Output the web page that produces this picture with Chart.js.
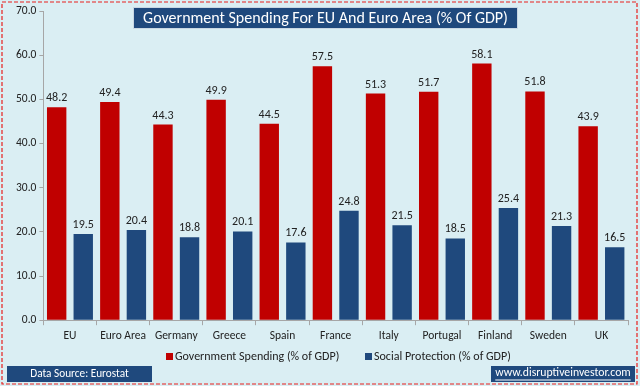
<!DOCTYPE html>
<html><head><meta charset="utf-8">
<script src="https://cdn.jsdelivr.net/npm/chart.js@4"></script>
<style>html,body{margin:0;padding:0;background:#DAEEF3;}</style>
</head><body><canvas id="c" width="640" height="386"></canvas>
<script>
const categories = ["EU","Euro Area","Germany","Greece","Spain","France","Italy","Portugal","Finland","Sweden","UK"];
const govSpending = [48.2,49.4,44.3,49.9,44.5,57.5,51.3,51.7,58.1,51.8,43.9];
const socialProtection = [19.5,20.4,18.8,20.1,17.6,24.8,21.5,18.5,25.4,21.3,16.5];
const seriesNames = ["Government Spending (% of GDP)","Social Protection (% of GDP)"];
const seriesColors = ["#C00000","#1F497D"];
const titleText = "Government Spending For EU And Euro Area (% Of GDP)";
const sourceText = "Data Source: Eurostat";
const siteText = "www.disruptiveinvestor.com";
const FONT = "Carlito, Lato, 'Open Sans', sans-serif";

function fitText(ctx, text, cx, cy, width, maxSize){
  let s = maxSize;
  ctx.font = s+'px '+FONT;
  while (ctx.measureText(text).width > width && s > 6){ s -= 0.25; ctx.font = s+'px '+FONT; }
  ctx.fillText(text, cx, cy);
  return ctx.measureText(text).width;
}

const decor = {
  id:'decor',
  beforeDraw(chart){
    const ctx=chart.ctx;
    ctx.save();
    ctx.fillStyle='#DAEEF3';
    ctx.fillRect(0,0,chart.width,chart.height);
    ctx.restore();
  },
  afterDraw(chart){
    const ctx=chart.ctx;
    ctx.save();
    ctx.textAlign='center';ctx.textBaseline='middle';
    // title box
    ctx.fillStyle='#1F497D';
    ctx.fillRect(133,7,385,22);
    ctx.strokeStyle='#C9D7E3';ctx.lineWidth=1;
    ctx.strokeRect(133.5,7.5,384,21);
    ctx.fillStyle='#fff';
    fitText(ctx,titleText,325.5,18.5,365,16);
    // source boxes
    ctx.fillStyle='#1F497D';
    ctx.fillRect(7,366,145,16);
    ctx.fillRect(491,366,144,16);
    ctx.fillStyle='#fff';
    fitText(ctx,sourceText,79.5,374,100,13);
    const w = fitText(ctx,siteText,563,373.5,138,13);
    ctx.fillRect(563-w/2,379.5,w,1);
    // legend
    const lx=[166,365];
    ctx.textAlign='left';
    seriesNames.forEach((n,i)=>{
      ctx.fillStyle=seriesColors[i];
      ctx.fillRect(lx[i],353,7,7);
      ctx.fillStyle='#222';
      const tw = i===0?166:138;
      let s=12; ctx.font=s+'px '+FONT;
      while(ctx.measureText(n).width>tw && s>6){s-=0.25;ctx.font=s+'px '+FONT;}
      ctx.fillText(n,lx[i]+9,356.5);
    });
    // data labels
    ctx.textAlign='center';
    ctx.fillStyle='#222';ctx.font='12px '+FONT;ctx.textBaseline='bottom';
    chart.data.datasets.forEach((ds,i)=>{
      const meta=chart.getDatasetMeta(i);
      meta.data.forEach((bar,j)=>{
        ctx.fillText(ds.data[j].toFixed(1),bar.x,bar.y-3);
      });
    });
    // border
    ctx.strokeStyle='#E8201F';ctx.lineWidth=1.2;ctx.setLineDash([4,2]);
    ctx.strokeRect(2,2,635,382);
    ctx.restore();
  }
};

new Chart(document.getElementById('c'),{
  type:'bar',
  data:{labels:categories,datasets:[
    {label:seriesNames[0],data:govSpending,backgroundColor:seriesColors[0],barPercentage:0.73,categoryPercentage:1},
    {label:seriesNames[1],data:socialProtection,backgroundColor:seriesColors[1],barPercentage:0.73,categoryPercentage:1}
  ]},
  options:{
    responsive:false,animation:false,
    layout:{padding:{left:13,right:12,top:11,bottom:39}},
    plugins:{legend:{display:false},tooltip:{enabled:false}},
    scales:{
      x:{grid:{offset:true,drawOnChartArea:false,color:'#A6A6A6',tickLength:5},border:{color:'#A6A6A6'},
         ticks:{color:'#222',font:{family:FONT,size:11.5},padding:4,maxRotation:0,autoSkip:false}},
      y:{min:0,max:70,grid:{drawOnChartArea:false,color:'#A6A6A6',tickLength:4},border:{color:'#A6A6A6'},
         ticks:{stepSize:10,color:'#222',font:{family:FONT,size:11.5},padding:3,callback:v=>v.toFixed(1)}}
    }
  },
  plugins:[decor]
});
</script></body></html>
